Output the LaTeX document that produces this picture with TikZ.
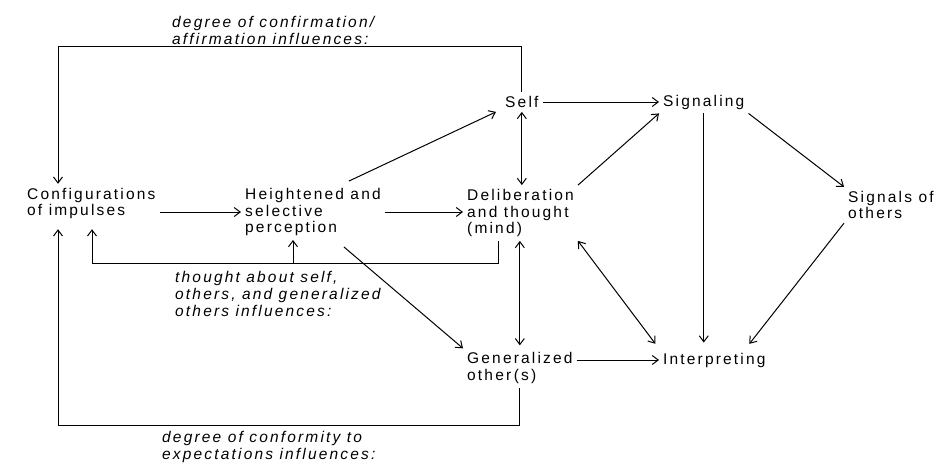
\documentclass[tikz,border=0pt]{standalone}
\usepackage{fontspec}
\setmainfont{Liberation Sans}[LetterSpace=14]
\usetikzlibrary{arrows.meta,calc}
\begin{document}
\begin{tikzpicture}[x=1pt,y=-1pt,
  lbl/.style={font=\fontsize{15.5}{16.5}\selectfont, align=left, inner sep=4pt, anchor=west},
  note/.style={font=\itshape\fontsize{15.5}{17}\selectfont, align=left, inner sep=0pt, anchor=west},
  arr/.style={-{Straight Barb[length=6pt,width=9pt]}, line width=1pt},
  darr/.style={{Straight Barb[length=6pt,width=9pt]}-{Straight Barb[length=6pt,width=9pt]}, line width=1pt}]
\useasboundingbox (0,0) rectangle (939,466);
\node[lbl] (conf) at (23,203.5) {Configurations\\of impulses};
\node[lbl] (heig) at (241,212) {Heightened and\\selective\\perception};
\node[lbl] (delib) at (463,213) {Deliberation\\and thought\\(mind)};
\node[lbl] (self) at (501,102) {Self};
\node[lbl] (sign) at (659,102) {Signaling};
\node[lbl] (soth) at (844,205) {Signals of\\others};
\node[lbl] (gen) at (463,368) {Generalized\\other\,(s)};
\node[lbl] (interp) at (659,360) {Interpreting};
\node[note] (n1) at (172,30) {degree of confirmation/\\affirmation influences:};
\node[note] (n2) at (175,294) {thought about self,\\others, and generalized\\others influences:};
\node[note] (n3) at (162,447) {degree of conformity to\\expectations influences:};
\coordinate (topy) at (0,46);
\coordinate (thy) at (0,263);
\coordinate (boty) at (0,425);
% connectors
\draw[arr] (conf.east |- heig.west) -- (heig.west);
\draw[arr] (heig.east) -- (delib.west |- heig.east);
\draw[arr] ([xshift=-36pt,yshift=3pt]heig.north east) -- ([xshift=-5pt]self.south west);
\draw[arr] (self.east) -- (sign.west);
\draw[darr] (self.south) -- (self.south |- delib.north);
\draw[arr] (self.north) |- ([xshift=35pt]conf.north west |- topy) -- ([xshift=35pt]conf.north west);
\draw[arr] (gen.south) |- ([xshift=35pt]conf.south west |- boty) -- ([xshift=35pt,yshift=-6pt]conf.south west);
\draw[arr] ([xshift=35pt]delib.south west) |- ([xshift=69pt]conf.south west |- thy) -- ([xshift=69pt,yshift=-6pt]conf.south west);
\draw[arr] ([xshift=52pt]heig.south west |- thy) -- ([xshift=52pt]heig.south west);
\draw[arr] ([xshift=-41pt,yshift=-7pt]heig.south east) -- (gen.north west);
\draw[arr] (delib.north east) -- (sign.south west);
\draw[arr] (sign.south east) -- (soth.north west);
\draw[arr, shorten >=6pt] (sign.south) -- (sign.south |- interp.north);
\draw[arr, shorten >=6pt] (soth.south west) -- ([xshift=-24pt]interp.north east);
\draw[darr, shorten >=6pt] (delib.south east) -- (interp.north west);
\draw[darr, shorten >=3pt] (gen.north |- delib.south) -- (gen.north);
\draw[arr] (gen.east |- interp.west) -- (interp.west);
\end{tikzpicture}
\end{document}
